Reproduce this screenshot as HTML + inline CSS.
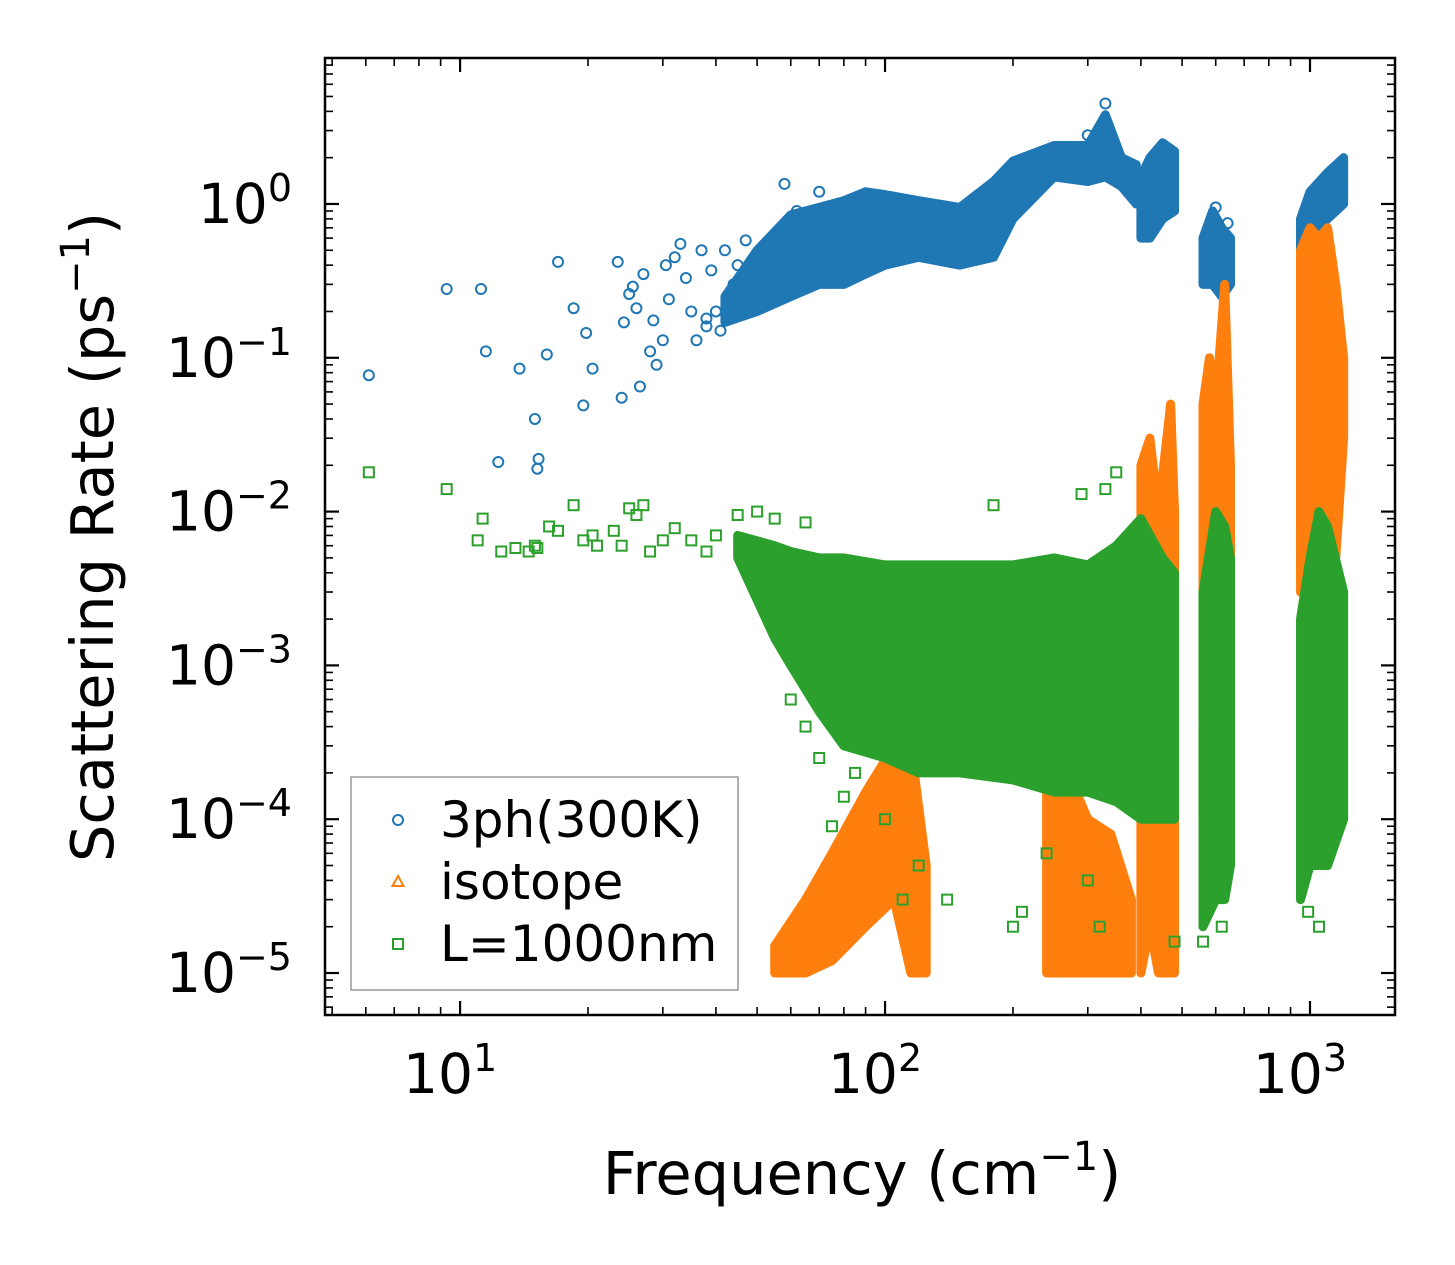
<!DOCTYPE html>
<html><head><meta charset="utf-8"><style>
html,body{margin:0;padding:0;background:#fff;}
svg{display:block;font-family:"DejaVu Sans","Liberation Sans",sans-serif;}
</style></head><body>
<svg id="chart" width="1455" height="1265" viewBox="0 0 1455 1265">
<defs><clipPath id="clip"><rect x="325" y="58" width="1070" height="957"/></clipPath></defs>
<g id="marks" clip-path="url(#clip)"></g>
<g id="axes"></g>
<text x="862" y="1194" text-anchor="middle" font-size="59">Frequency (cm<tspan dy="-24" font-size="40">−1</tspan><tspan dy="24">)</tspan></text>
<text transform="translate(113,537) rotate(-90)" text-anchor="middle" font-size="59">Scattering Rate (ps<tspan dy="-24" font-size="40">−1</tspan><tspan dy="24">)</tspan></text>
<g id="legend"></g>
</svg>
<script>
// ---- data ----
const blueBand = [[42,0.17,0.25],[50,0.2,0.5],[60,0.25,0.85],[70,0.3,0.95],[80,0.3,1.05],[90,0.35,1.2],[100,0.4,1.15],[120,0.45,1.05],[150,0.4,0.95],[180,0.45,1.4],[200,0.8,1.9],[250,1.5,2.4],[300,1.4,2.4],[330,1.5,3.8],[360,1.3,2.0],[390,1.0,1.8]];
const blueBand2 = [[400,0.6,1.5],[420,0.6,2.0],[450,0.8,2.5],[480,0.9,2.2]];
const blueBand3 = [[560,0.3,0.6],[590,0.3,0.9],[620,0.25,0.7],[650,0.3,0.6]];
const blueBand4 = [[950,0.5,0.8],[1000,0.6,1.2],[1100,0.8,1.6],[1200,1.0,2.0]];
const bluePts = [[6.1,0.077],[9.3,0.28],[11.2,0.28],[11.5,0.11],[12.3,0.021],[13.8,0.085],[15,0.04],[15.2,0.019],[15.3,0.022],[16,0.105],[17,0.42],[18.5,0.21],[19.5,0.049],[19.8,0.145],[20.5,0.085],[23.5,0.42],[24,0.055],[24.3,0.17],[25,0.26],[25.5,0.29],[26,0.21],[26.5,0.065],[27,0.35],[28,0.11],[28.5,0.175],[29,0.09],[30,0.13],[30.5,0.4],[31,0.24],[32,0.45],[33,0.55],[34,0.33],[35,0.2],[36,0.13],[37,0.5],[38,0.16],[39,0.37],[40,0.2],[42,0.5],[45,0.4],[47,0.58],[50,0.45],[55,0.5],[58,1.35],[70,1.2],[62,0.9],[80,0.32],[600,0.95],[640,0.75],[300,2.8],[330,4.5],[44,0.3],[48,0.25],[52,0.35],[38,0.18],[41,0.15]];
const orangeBand = [[55,1e-5,1.5e-5],[65,1e-5,3e-5],[75,1.2e-5,6e-5],[90,2e-5,1.5e-4],[105,3e-5,3e-4],[115,1e-5,3e-4],[125,1e-5,5e-5]];
const orangeBand2 = [[240,1e-5,5e-4],[250,1e-5,5e-3],[270,1e-5,2e-4],[300,1e-5,1e-4],[340,1e-5,8e-5],[380,1e-5,3e-5]];
const orangeBand3 = [[400,1e-5,2e-2],[420,2e-5,3e-2],[440,1e-5,1e-2],[470,1e-5,5e-2],[480,1e-5,1e-2]];
const orangeBand4 = [[560,1e-4,0.05],[580,2e-4,0.1],[600,1e-3,0.05],[630,2e-3,0.3],[650,1e-3,0.02]];
const orangeBand5 = [[950,3e-3,0.5],[1000,5e-3,0.7],[1050,1e-2,0.6],[1100,8e-3,0.7],[1150,5e-3,0.3],[1200,3e-2,0.1]];
const greenBand = [[45,5e-3,7e-3],[55,1.5e-3,6e-3],[60,1e-3,5.5e-3],[70,5e-4,5e-3],[80,3e-4,5e-3],[100,2.5e-4,4.5e-3],[120,2e-4,4.5e-3],[150,2e-4,4.5e-3],[200,1.8e-4,4.5e-3],[250,1.5e-4,5e-3],[300,1.5e-4,4.5e-3],[350,1.3e-4,6e-3],[400,1e-4,9e-3],[450,1e-4,5e-3],[480,1e-4,4e-3]];
const greenBand2 = [[560,2e-5,3e-3],[600,3e-5,1e-2],[630,3e-5,8e-3],[650,5e-5,5e-3]];
const greenBand3 = [[950,3e-5,2e-3],[1000,5e-5,5e-3],[1050,5e-5,1e-2],[1100,5e-5,8e-3],[1200,1e-4,3e-3]];
const greenPts = [[6.1,0.018],[9.3,0.014],[11,0.0065],[11.3,0.009],[12.5,0.0055],[13.5,0.0058],[14.5,0.0055],[15,0.006],[15.2,0.0058],[16.2,0.008],[17,0.0075],[18.5,0.011],[19.5,0.0065],[20.5,0.007],[21,0.006],[23,0.0075],[24,0.006],[25,0.0105],[26,0.0095],[27,0.011],[28,0.0055],[30,0.0065],[32,0.0078],[35,0.0065],[38,0.0055],[40,0.007],[45,0.0095],[50,0.01],[55,0.009],[65,0.0085],[90,0.0003],[100,0.0001],[110,0.00003],[120,0.00005],[140,0.00003],[190,0.0013],[200,0.00002],[210,0.000025],[240,0.00006],[290,0.013],[300,0.00004],[320,0.00002],[350,0.018],[480,0.000016],[560,0.000016],[620,0.00002],[1050,0.00002],[990,0.000025],[75,0.00009],[80,0.00014],[180,0.011],[330,0.014],[60,0.0006],[65,0.0004],[70,0.00025],[85,0.0002]];
const xTickVals = [10,100,1000];
const xTickExp = ["1","2","3"];
const yTickVals = [1,0.1,0.01,0.001,0.0001,0.00001];
const yTickExp = ["0","−1","−2","−3","−4","−5"];
const legendLabels = ["3ph(300K)","isotope","L=1000nm"];

// ---- scales ----
const X0=325,X1=1395,Y0=58,Y1=1015;
const xMinL=Math.log10(4.81), xMaxL=Math.log10(1585);
const yMinL=-5.273, yMaxL=0.949;
const xs=v=>X0+(Math.log10(v)-xMinL)/(xMaxL-xMinL)*(X1-X0);
const ys=v=>Y1-(Math.log10(v)-yMinL)/(yMaxL-yMinL)*(Y1-Y0);
const NS='http://www.w3.org/2000/svg';
const C={blue:'#1f77b4',orange:'#ff7f0e',green:'#2ca02c'};
const marks=document.getElementById('marks');
const axes=document.getElementById('axes');
function mk(tag,attrs,parent){const e=document.createElementNS(NS,tag);for(const k in attrs)e.setAttribute(k,attrs[k]);parent.appendChild(e);return e;}

function band(data,color,name){
  const top=data.map(d=>xs(d[0])+','+ys(d[2]));
  const bot=data.slice().reverse().map(d=>xs(d[0])+','+ys(d[1]));
  const p=mk('polygon',{points:top.concat(bot).join(' '),fill:color,stroke:color,'stroke-width':9,'stroke-linejoin':'round'},marks);
  
  
}
function marker(kind,x,y,color,parent){
  let e;
  if(kind==='o') e=mk('circle',{cx:x,cy:y,r:5,fill:'none',stroke:color,'stroke-width':2},parent);
  else if(kind==='^') e=mk('polygon',{points:`${x},${y-6} ${x-5.5},${y+4} ${x+5.5},${y+4}`,fill:'none',stroke:color,'stroke-width':2},parent);
  else e=mk('rect',{x:x-5,y:y-5,width:10,height:10,fill:'none',stroke:color,'stroke-width':2},parent);
  return e;
}
function pts(data,kind,color,name){
  data.forEach(d=>{const e=marker(kind,xs(d[0]),ys(d[1]),color,marks);
    
    });
}
[blueBand,blueBand2,blueBand3,blueBand4].forEach(b=>band(b,C.blue,'3ph-band'));
pts(bluePts,'o',C.blue,'3ph-point');
[orangeBand,orangeBand2,orangeBand3,orangeBand4,orangeBand5].forEach(b=>band(b,C.orange,'isotope-band'));
[greenBand,greenBand2,greenBand3].forEach(b=>band(b,C.green,'boundary-band'));
pts(greenPts,'s',C.green,'boundary-point');

// ---- axes frame & ticks ----
const fr=mk('rect',{x:X0,y:Y0,width:X1-X0,height:Y1-Y0,fill:'none',stroke:'#000','stroke-width':2.5},axes);


function tick(x1,y1,x2,y2,w){mk('line',{x1,y1,x2,y2,stroke:'#000','stroke-width':w},axes);}
for(let e=0;e<=3;e++)for(let m=1;m<10;m++){const v=m*Math.pow(10,e);const x=xs(v);if(x<X0||x>X1)continue;
  const L=m===1?14:8, w=m===1?2.2:1.6; tick(x,Y1,x,Y1-L,w); tick(x,Y0,x,Y0+L,w);}
for(let e=-6;e<=0;e++)for(let m=1;m<10;m++){const v=m*Math.pow(10,e);const y=ys(v);if(y<Y0||y>Y1)continue;
  const L=m===1?14:8, w=m===1?2.2:1.6; tick(X0,y,X0+L,y,w); tick(X1,y,X1-L,y,w);}
xTickVals.forEach((v,i)=>{const t=mk('text',{x:xs(v)-10,y:1093,'text-anchor':'middle','font-size':55},axes);
  t.innerHTML='10<tspan dy="-22" font-size="38">'+xTickExp[i]+'</tspan>';
  
  });
yTickVals.forEach((v,i)=>{const t=mk('text',{x:292,y:ys(v)+19,'text-anchor':'end','font-size':55},axes);
  t.innerHTML='10<tspan dy="-22" font-size="38">'+yTickExp[i]+'</tspan>';
  
  });

// ---- legend ----
const lg=document.getElementById('legend');
const lb=mk('rect',{x:351,y:777,width:387,height:213,fill:'#fff',stroke:'#999','stroke-width':1.5},lg);


const kinds=['o','^','s'], cols=[C.blue,C.orange,C.green];
legendLabels.forEach((l,i)=>{const y=820+i*62;
  const m=marker(kinds[i],398,y,cols[i],lg);
  
  
  const t=mk('text',{x:440,y:y+17,'font-size':50},lg); t.textContent=l;
  
  });
</script>
</body></html>
